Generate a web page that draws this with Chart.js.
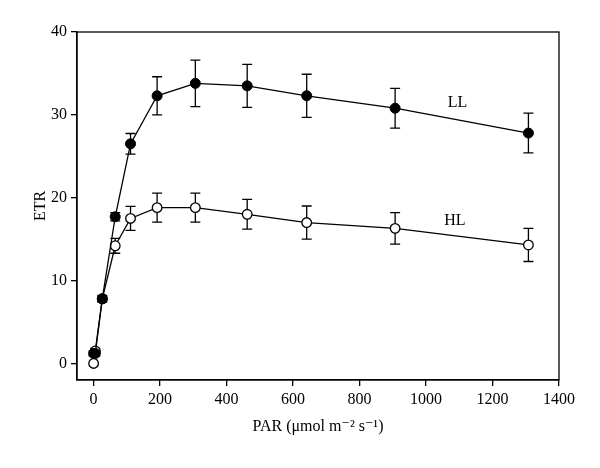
<!DOCTYPE html>
<html>
<head>
<meta charset="utf-8">
<script src="https://cdn.jsdelivr.net/npm/chart.js@4"></script>
<style>
  html, body { margin: 0; padding: 0; background: #fff; }
  #wrap { width: 600px; height: 468px; }
</style>
</head>
<body>
<div id="wrap"><canvas id="chart" width="600" height="468"></canvas></div>
<script>
// PAR values (x) shared by both series
const par = [0, 5, 26, 65, 111, 191, 306, 462, 641, 907, 1308];

// LL (filled circles)
const llEtr = [1.2, 1.2, 7.8, 17.7, 26.5, 32.3, 33.8, 33.5, 32.3, 30.8, 27.8];
const llErr = [0.3, 0.3, 0.4, 0.5, 1.25, 2.3, 2.8, 2.6, 2.6, 2.4, 2.4];

// HL (open circles)
const hlEtr = [0, 1.5, 7.8, 14.2, 17.5, 18.8, 18.8, 18.0, 17.0, 16.3, 14.3];
const hlErr = [0, 0.3, 0.3, 0.9, 1.45, 1.75, 1.75, 1.8, 2.0, 1.9, 2.0];

const xTicks = [0, 200, 400, 600, 800, 1000, 1200, 1400];
const yTicks = [0, 10, 20, 30, 40];

const FONT = "'Liberation Serif', 'DejaVu Serif', serif";

// 📏 Error bars (drawn under the points)
const errorBars = {
  id: 'errorBars',
  beforeDatasetsDraw(chart) {
    const { ctx, scales: { x, y } } = chart;
    ctx.save();
    ctx.strokeStyle = '#000';
    ctx.lineWidth = 1.3;
    chart.data.datasets.forEach(ds => {
      ds.data.forEach((p, i) => {
        const e = ds.err[i];
        if (!e) return;
        const px = x.getPixelForValue(p.x);
        const top = y.getPixelForValue(p.y + e);
        const bot = y.getPixelForValue(p.y - e);
        ctx.beginPath();
        ctx.moveTo(px, top); ctx.lineTo(px, bot);
        ctx.moveTo(px - 5, top); ctx.lineTo(px + 5, top);
        ctx.moveTo(px - 5, bot); ctx.lineTo(px + 5, bot);
        ctx.stroke();
      });
    });
    ctx.restore();
  }
};

// 🔲 Frame + series labels
const frameAndLabels = {
  id: 'frameAndLabels',
  afterDraw(chart) {
    const { ctx, chartArea: a, scales: { x, y } } = chart;
    ctx.save();
    ctx.strokeStyle = '#000';
    ctx.lineWidth = 1.3;
    ctx.strokeRect(a.left, a.top, a.right - a.left, a.bottom - a.top);
    ctx.fillStyle = '#000';
    ctx.font = "16px " + FONT;
    ctx.textAlign = 'center';
    ctx.textBaseline = 'middle';
    ctx.fillText('LL', x.getPixelForValue(1095), y.getPixelForValue(31.5));
    ctx.fillText('HL', x.getPixelForValue(1087), y.getPixelForValue(17.2));
    ctx.restore();
  }
};

const toPoints = vals => vals.map((v, i) => ({ x: par[i], y: v }));

new Chart(document.getElementById('chart'), {
  type: 'scatter',
  data: {
    datasets: [
      {
        label: 'HL',
        data: toPoints(hlEtr),
        err: hlErr,
        showLine: true,
        borderColor: '#000',
        borderWidth: 1.3,
        pointRadius: 4.8,
        pointBackgroundColor: '#fff',
        pointBorderColor: '#000',
        pointBorderWidth: 1.3,
        order: 2
      },
      {
        label: 'LL',
        data: toPoints(llEtr),
        err: llErr,
        showLine: true,
        borderColor: '#000',
        borderWidth: 1.3,
        pointRadius: 5,
        pointBackgroundColor: '#000',
        pointBorderColor: '#000',
        pointBorderWidth: 1,
        order: 1
      }
    ]
  },
  options: {
    responsive: false,
    animation: false,
    layout: { padding: { top: 32, right: 41, left: 0, bottom: 0 } },
    plugins: {
      legend: { display: false },
      tooltip: { enabled: false }
    },
    scales: {
      x: {
        type: 'linear',
        min: -50,
        max: 1400,
        afterBuildTicks: s => { s.ticks = xTicks.map(v => ({ value: v })); },
        afterFit: s => { s.height = 88; },
        grid: { drawOnChartArea: false, drawTicks: true, tickLength: 6, color: '#000', lineWidth: 1.3 },
        border: { display: true, color: '#000', width: 1.3 },
        ticks: { color: '#000', font: { family: FONT, size: 16 }, padding: 4, maxRotation: 0, callback: v => String(v) },
        title: {
          display: true,
          text: 'PAR (\u03bcmol m\u207b\u00b2 s\u207b\u00b9)',
          color: '#000',
          font: { family: FONT, size: 16 },
          padding: { top: 4, bottom: 32 }
        }
      },
      y: {
        type: 'linear',
        min: -2,
        max: 40,
        afterBuildTicks: s => { s.ticks = yTicks.map(v => ({ value: v })); },
        afterFit: s => { s.width = 77; },
        grid: { drawOnChartArea: false, drawTicks: true, tickLength: 6, color: '#000', lineWidth: 1.3 },
        border: { display: true, color: '#000', width: 1.3 },
        ticks: { color: '#000', font: { family: FONT, size: 16 }, padding: 4, callback: v => String(v) },
        title: {
          display: true,
          text: 'ETR',
          color: '#000',
          font: { family: FONT, size: 16 },
          padding: { top: 31, bottom: 0 }
        }
      }
    }
  },
  plugins: [errorBars, frameAndLabels]
});
</script>
</body>
</html>
